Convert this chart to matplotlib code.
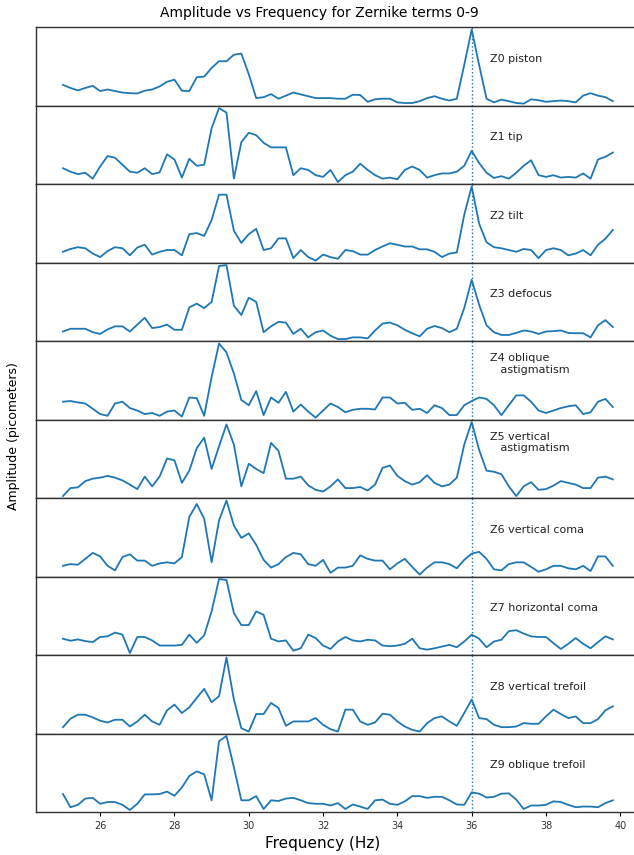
import numpy as np
import matplotlib
matplotlib.use("Agg")
import matplotlib.pyplot as plt

# frequency bins, 25.0 .. 39.8 Hz in 0.2 Hz steps
freq = np.round(np.arange(75) * 0.2 + 25.0, 1)

labels = ["Z0 piston", "Z1 tip", "Z2 tilt", "Z3 defocus",
          "Z4 oblique\n   astigmatism", "Z5 vertical\n   astigmatism",
          "Z6 vertical coma", "Z7 horizontal coma",
          "Z8 vertical trefoil", "Z9 oblique trefoil"]

z0 = [65, 55, 47, 55, 62, 45, 50, 45, 40, 38,
      37, 46, 50, 60, 75, 82, 46, 45, 90, 92,
      120, 142, 142, 163, 167, 100, 22, 25, 35, 20,
      30, 40, 34, 28, 22, 22, 22, 20, 20, 33,
      32, 10, 18, 20, 20, 8, 6, 6, 12, 22,
      28, 20, 14, 20, 130, 245, 130, 20, 8, 17,
      12, 6, 4, 18, 15, 10, 12, 14, 12, 8,
      30, 38, 30, 25, 12]
z1 = [60, 50, 43, 47, 30, 65, 95, 90, 70, 50,
      47, 60, 43, 48, 100, 85, 33, 87, 67, 70,
      175, 233, 220, 30, 135, 162, 155, 133, 120, 120,
      120, 40, 60, 55, 40, 35, 55, 20, 40, 50,
      73, 55, 40, 30, 33, 28, 55, 65, 55, 33,
      40, 45, 45, 50, 67, 110, 75, 47, 32, 37,
      30, 47, 67, 83, 40, 35, 40, 33, 35, 33,
      45, 30, 85, 93, 105]
z2 = [45, 53, 58, 55, 40, 30, 47, 58, 55, 35,
      57, 65, 37, 45, 50, 50, 35, 95, 98, 90,
      135, 207, 207, 105, 70, 95, 110, 50, 55, 83,
      83, 27, 50, 30, 20, 37, 30, 25, 50, 47,
      37, 37, 50, 60, 69, 65, 60, 60, 52, 52,
      45, 30, 40, 43, 150, 230, 125, 72, 58, 55,
      50, 45, 53, 50, 27, 50, 55, 50, 35, 40,
      50, 35, 65, 82, 107]
z3 = [37, 45, 45, 45, 35, 30, 43, 52, 52, 37,
      57, 77, 47, 50, 57, 42, 42, 107, 118, 105,
      123, 227, 230, 112, 85, 135, 123, 35, 52, 65,
      63, 30, 45, 20, 35, 40, 25, 15, 15, 20,
      20, 17, 40, 60, 63, 55, 42, 32, 23, 45,
      53, 47, 35, 45, 105, 187, 115, 55, 35, 27,
      27, 33, 40, 37, 30, 37, 38, 40, 33, 32,
      32, 20, 55, 70, 50]
z4 = [65, 67, 63, 60, 45, 30, 25, 60, 65, 47,
      40, 30, 33, 25, 37, 40, 23, 77, 75, 25,
      135, 230, 205, 145, 70, 55, 95, 27, 77, 62,
      93, 37, 57, 37, 20, 40, 60, 50, 35, 42,
      45, 45, 43, 77, 77, 60, 62, 42, 45, 33,
      55, 47, 27, 27, 55, 67, 77, 73, 55, 27,
      55, 83, 83, 65, 40, 33, 40, 47, 52, 55,
      30, 35, 65, 73, 50]
z5 = [17, 40, 42, 60, 67, 70, 75, 70, 62, 50,
      37, 73, 45, 73, 125, 120, 55, 90, 155, 185,
      95, 160, 223, 165, 45, 110, 95, 83, 170, 147,
      67, 67, 73, 48, 35, 30, 45, 65, 40, 40,
      43, 33, 50, 98, 105, 75, 60, 50, 57, 77,
      55, 45, 50, 70, 165, 230, 150, 90, 87, 80,
      45, 17, 45, 57, 35, 37, 47, 60, 55, 50,
      40, 40, 70, 73, 65]
z6 = [40, 45, 43, 60, 77, 67, 40, 27, 65, 73,
      55, 55, 40, 47, 50, 47, 65, 180, 217, 175,
      50, 170, 227, 155, 120, 133, 100, 57, 35, 45,
      65, 77, 73, 45, 40, 57, 20, 35, 35, 40,
      70, 60, 55, 55, 30, 47, 60, 37, 15, 35,
      50, 50, 45, 33, 57, 75, 80, 60, 30, 27,
      45, 50, 50, 37, 23, 30, 40, 40, 33, 30,
      40, 25, 67, 67, 40]
z7 = [55, 49, 53, 48, 45, 60, 62, 73, 67, 13,
      60, 60, 50, 35, 35, 35, 37, 67, 43, 65,
      135, 230, 227, 130, 95, 95, 135, 125, 55, 47,
      50, 20, 27, 67, 57, 35, 25, 47, 60, 50,
      47, 52, 50, 35, 33, 35, 40, 55, 27, 23,
      27, 32, 37, 30, 47, 67, 55, 30, 47, 52,
      77, 80, 70, 62, 60, 60, 42, 25, 40, 57,
      40, 27, 45, 62, 53]
z8 = [23, 48, 60, 60, 52, 42, 37, 45, 45, 25,
      40, 60, 40, 30, 73, 90, 65, 82, 110, 137,
      97, 115, 230, 105, 20, 10, 62, 62, 95, 80,
      27, 40, 40, 40, 50, 30, 17, 10, 75, 75,
      40, 30, 37, 63, 60, 40, 25, 15, 10, 35,
      50, 55, 40, 27, 65, 105, 50, 47, 30, 23,
      23, 25, 35, 33, 33, 55, 75, 62, 50, 55,
      35, 35, 47, 73, 85]
z9 = [58, 20, 27, 45, 47, 30, 35, 35, 27, 12,
      30, 57, 57, 58, 65, 53, 77, 110, 123, 115,
      40, 210, 225, 135, 40, 40, 52, 15, 40, 38,
      45, 47, 40, 32, 30, 30, 25, 32, 15, 28,
      22, 15, 40, 42, 30, 27, 37, 52, 52, 47,
      50, 50, 40, 28, 27, 63, 59, 48, 50, 59,
      60, 42, 15, 25, 25, 27, 37, 35, 27, 20,
      22, 22, 20, 32, 40]

terms = [z0, z1, z2, z3, z4, z5, z6, z7, z8, z9]

fig, axes = plt.subplots(10, 1, sharex=True, figsize=(6.34, 8.55), dpi=100)
fig.subplots_adjust(left=0.056, right=1.01, top=0.968, bottom=0.050, hspace=0)

for ax, amp, lab in zip(axes, terms, labels):
    ax.plot(freq, amp, color='#1f77b4', lw=1.3)
    ax.axvline(36, color='#1f77b4', ls=':', lw=1.0)
    ax.margins(x=0.05, y=0.03)
    ax.set_yticks([])
    ypos = 0.71 if '\n' in lab else 0.6
    ax.text(36.5, ypos, lab, transform=ax.get_xaxis_transform(),
            va='center', ha='left', fontsize=8, color='#222222')
    for s in ax.spines.values():
        s.set_color('#333333')
        s.set_linewidth(1.0)
    ax.tick_params(axis='x', length=0)

axes[-1].set_xticks([26, 28, 30, 32, 34, 36, 38, 40])
axes[-1].tick_params(axis='x', length=3, labelsize=7, labelcolor='#333333')

fig.text(0.503, 0.985, "Amplitude vs Frequency for Zernike terms 0-9",
         ha='center', va='center', fontsize=10)
fig.text(0.509, 0.014, "Frequency (Hz)", ha='center', va='center', fontsize=11)
fig.text(0.022, 0.49, "Amplitude (picometers)", rotation=90,
         ha='center', va='center', fontsize=9)

fig.savefig("out.png", dpi=100)
